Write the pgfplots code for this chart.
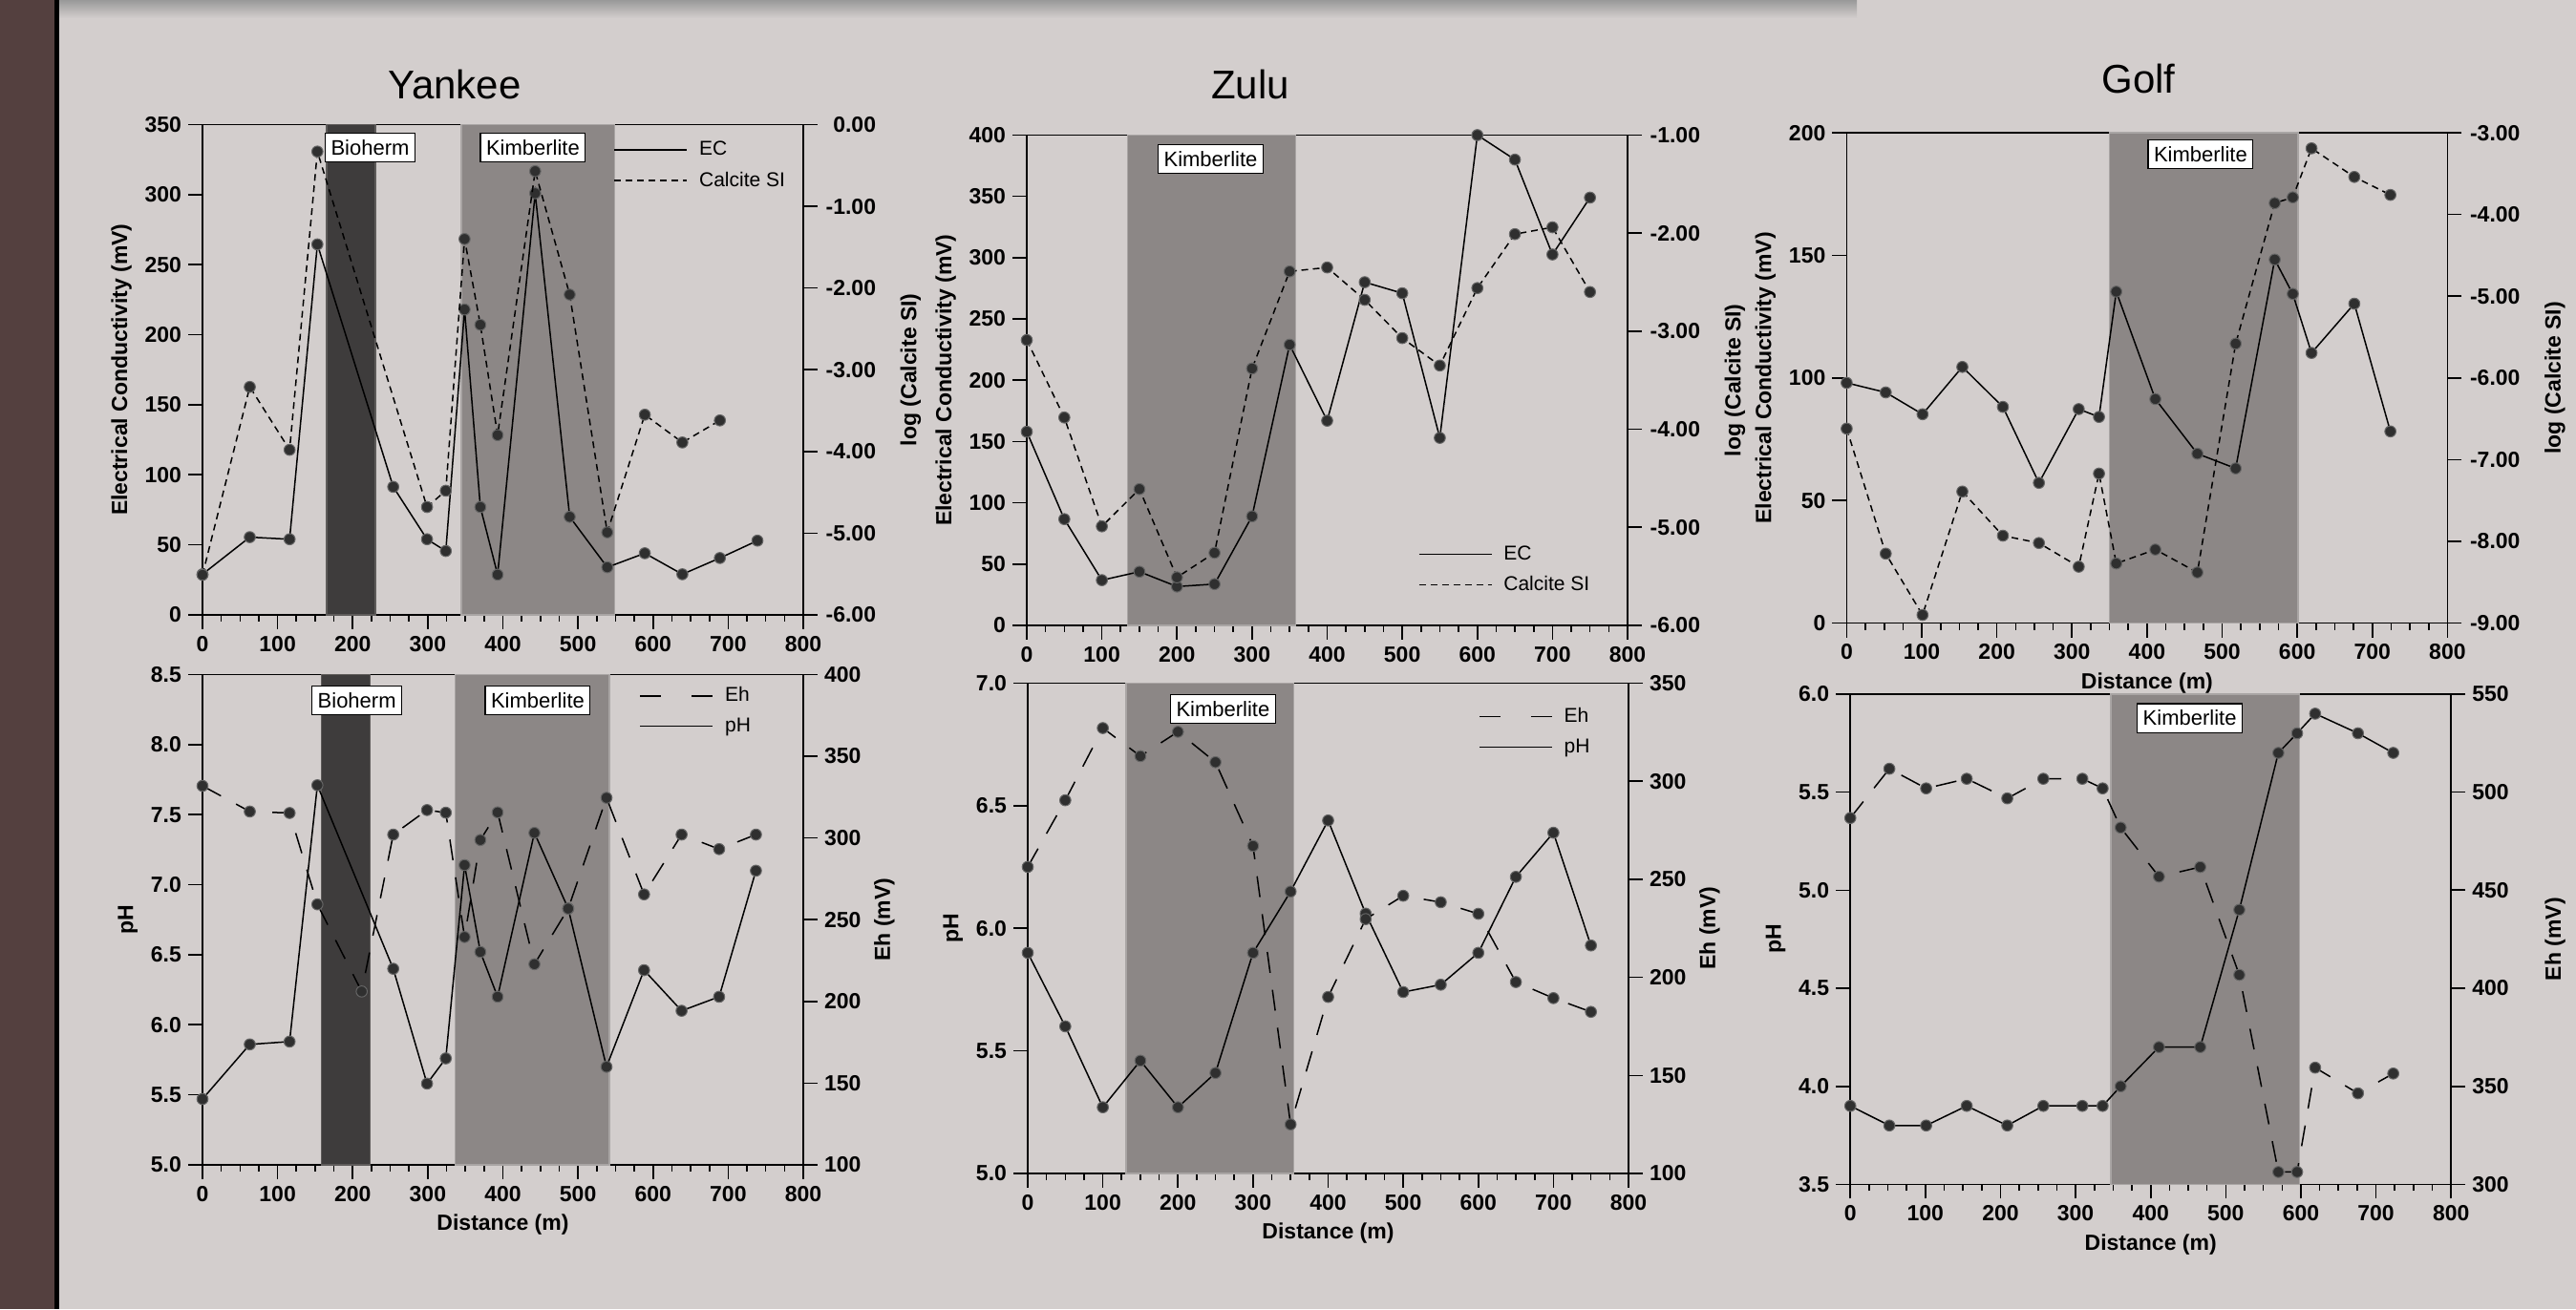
\documentclass[border=0pt]{standalone}
\usepackage{fontspec}
\setmainfont{Liberation Sans}
\usepackage{pgfplots}
\pgfplotsset{compat=1.18}
\definecolor{bg}{HTML}{D3CECD}
\definecolor{strip}{HTML}{54403F}
\definecolor{kimb}{HTML}{8C8786}
\definecolor{kimbedge}{HTML}{A9A5A4}
\definecolor{bioh}{HTML}{3E3C3C}
\definecolor{bioedge}{HTML}{5E5B5A}
\definecolor{markfill}{HTML}{2F2F2F}
\tikzset{lbl/.style={draw=black, fill=white, line width=0.6pt, inner xsep=3pt, inner ysep=3.5pt,
   font=\fontsize{11}{13}\selectfont}}
\pgfplotsset{
 panel/.style={
  scale only axis, width=314.5pt, height=256.75pt, anchor=south west,
  xmin=0, xmax=800, xtick={0,100,...,800}, minor x tick num=3,
  tick align=outside, major tick length=7.5pt, minor tick length=3.5pt,
  axis line style={-, line width=0.9pt},
  every outer x axis line/.append style={-},
  every outer y axis line/.append style={-},
  every tick/.append style={line width=0.8pt, black},
  tick label style={font=\bfseries\fontsize{11.5}{13}\selectfont},
  label style={font=\bfseries\fontsize{11.5}{13}\selectfont},
  /pgf/number format/assume math mode=true,
  clip=false,
 },
 leftax/.style={panel, xtick pos=bottom, ytick pos=left},
 rightax/.style={panel, axis x line=none, axis y line*=right},
 twodec/.style={yticklabel style={text width=27pt, align=right, /pgf/number format/.cd, fixed, fixed zerofill, precision=2}},
 onedec/.style={yticklabel style={/pgf/number format/.cd, fixed, fixed zerofill, precision=1}},
 leg/.style={legend image code/.code={\draw[##1] (0pt,0pt) -- (38pt,0pt);},
   legend style={draw=none, fill=none, inner sep=0pt, anchor=west, column sep=4pt, row sep=3pt,
   font=\fontsize{10.5}{12}\selectfont, cells={anchor=west}}},
 solidser/.style={black, line width=0.75pt, solid, mark=*, mark size=2.9pt,
   mark options={solid, fill=markfill, draw=black!60, line width=0.5pt}},
 siser/.style={solidser, dash pattern=on 3.5pt off 2.5pt},
 ehser/.style={solidser, dash pattern=on 11pt off 9pt},
 kimbreg/.style={fill=kimb, draw=kimbedge, line width=0.8pt, mark=none, forget plot},
 biohreg/.style={fill=bioh, draw=bioedge, line width=0.8pt, mark=none, forget plot},
}
\begin{document}
\begin{tikzpicture}
\fill[bg] (0,0) rectangle (1348.5pt,685.5pt);
\shade[top color=black!40, bottom color=bg] (31pt,676pt) rectangle (972pt,685.5pt);
\fill[strip] (0,0) rectangle (28.5pt,685.5pt);
\fill[black] (28.5pt,0) rectangle (31pt,685.5pt);
\node[font=\fontsize{21}{24}\selectfont] at (238pt,641pt) {Yankee};
\node[font=\fontsize{21}{24}\selectfont] at (654.5pt,641pt) {Zulu};
\node[font=\fontsize{21}{24}\selectfont] at (1119.5pt,644pt) {Golf};

% ===== Yankee top =====
\begin{axis}[leftax, at={(106pt,363.5pt)}, ymin=0, ymax=350, ytick={0,50,...,350},
  ylabel={Electrical Conductivity (mV)}]
\addplot[biohreg] coordinates {(165.5,0) (230,0) (230,350) (165.5,350)} -- cycle;
\addplot[kimbreg] coordinates {(345,0) (549,0) (549,350) (345,350)} -- cycle;
\addplot[solidser] table {
0 29
63 55.5
116 54
153 264.5
254 91.4
299 54
324 45.6
349 218
370 77
393 28.7
443 301
489 70
539 34
589 44
639 29
689 40.6
739 53
};
\end{axis}
\begin{axis}[rightax, twodec, leg, at={(106pt,363.5pt)}, ymin=-6, ymax=0, ytick={-6,-5,...,0},
  ylabel={log (Calcite SI)}, ylabel shift=6pt, legend style={at={(rel axis cs:0.684,0.917)}}]
\addplot[siser, forget plot] table {
0 -5.51
63 -3.21
116 -3.98
153 -0.33
299 -4.68
324 -4.48
349 -1.40
370 -2.45
393 -3.80
443 -0.57
489 -2.08
539 -4.99
589 -3.55
639 -3.89
689 -3.62
};
\addlegendimage{black, line width=0.75pt}\addlegendentry{EC}
\addlegendimage{black, line width=0.75pt, dash pattern=on 3.5pt off 2.5pt}\addlegendentry{Calcite SI}
\node[lbl] at (rel axis cs:0.279,0.953) {Bioherm};
\node[lbl] at (rel axis cs:0.55,0.953) {Kimberlite};
\end{axis}

% ===== Yankee bottom =====
\begin{axis}[leftax, onedec, at={(106pt,75.5pt)}, ymin=5, ymax=8.5, ytick={5,5.5,...,8.5},
  ylabel={pH}, xlabel={Distance (m)}]
\addplot[biohreg] coordinates {(158.6,5) (223.4,5) (223.4,8.5) (158.6,8.5)} -- cycle;
\addplot[kimbreg] coordinates {(336.6,5) (542,5) (542,8.5) (336.6,8.5)} -- cycle;
\addplot[solidser] table {
0 5.47
63 5.86
116 5.88
153 7.71
254 6.40
299 5.58
324 5.76
349 7.14
370 6.52
393 6.20
442 7.37
487 6.83
538 5.70
588 6.39
638 6.10
688 6.20
737 7.10
};
\end{axis}
\begin{axis}[rightax, leg, at={(106pt,75.5pt)}, ymin=100, ymax=400, ytick={100,150,...,400},
  ylabel={Eh (mV)}, legend style={at={(rel axis cs:0.727,0.926)}}]
\addplot[ehser, forget plot] table {
0 331.9
63 316.2
116 315.3
153 259.4
212 206.1
254 302.1
299 317.1
324 315.5
349 239.4
370 298.8
393 315.7
442 222.8
487 256.8
538 324.6
588 265.5
638 302.1
688 293.2
737 302.1
};
\addlegendimage{black, line width=0.75pt, dash pattern=on 11pt off 16pt}\addlegendentry{Eh}
\addlegendimage{black, line width=0.75pt}\addlegendentry{pH}
\node[lbl] at (rel axis cs:0.257,0.948) {Bioherm};
\node[lbl] at (rel axis cs:0.558,0.948) {Kimberlite};
\end{axis}

% ===== Zulu top =====
\begin{axis}[leftax, at={(537.5pt,358pt)}, ymin=0, ymax=400, ytick={0,50,...,400},
  ylabel={Electrical Conductivity (mV)}]
\addplot[kimbreg] coordinates {(134,0) (358,0) (358,400) (134,400)} -- cycle;
\addplot[solidser] table {
0 158
50 86.7
100 36.9
150 43.8
200 31.7
250 33.7
300 89
350 229
400 167
450 280
500 271
550 153
600 400
650 380
700 302.6
750 349
};
\end{axis}
\begin{axis}[rightax, twodec, leg, at={(537.5pt,358pt)}, ymin=-6, ymax=-1, ytick={-6,-5,...,-1},
  ylabel={log (Calcite SI)}, ylabel shift=6pt, legend style={at={(rel axis cs:0.651,0.114)}}]
\addplot[siser, forget plot] table {
0 -3.09
50 -3.88
100 -4.99
150 -4.61
200 -5.51
250 -5.26
300 -3.38
350 -2.39
400 -2.35
450 -2.68
500 -3.07
550 -3.35
600 -2.56
650 -2.01
700 -1.94
750 -2.60
};
\addlegendimage{black, line width=0.75pt}\addlegendentry{EC}
\addlegendimage{black, line width=0.75pt, dash pattern=on 3.5pt off 2.5pt}\addlegendentry{Calcite SI}
\node[lbl] at (rel axis cs:0.306,0.951) {Kimberlite};
\end{axis}

% ===== Zulu bottom =====
\begin{axis}[leftax, onedec, at={(538pt,71pt)}, ymin=5, ymax=7, ytick={5,5.5,...,7},
  ylabel={pH}, xlabel={Distance (m)}]
\addplot[kimbreg] coordinates {(131,5) (354,5) (354,7) (131,7)} -- cycle;
\addplot[solidser] table {
0 5.90
50 5.60
100 5.27
150 5.46
200 5.27
250 5.41
300 5.90
350 6.15
400 6.44
450 6.06
500 5.74
550 5.77
600 5.90
650 6.21
700 6.39
750 5.93
};
\end{axis}
\begin{axis}[rightax, leg, at={(538pt,71pt)}, ymin=100, ymax=350, ytick={100,150,...,350},
  ylabel={Eh (mV)}, legend style={at={(rel axis cs:0.75,0.901)}}]
\addplot[ehser, forget plot] table {
0 256.3
50 290.3
100 327.1
150 312.8
200 325.2
250 309.7
300 267
350 125
400 190
450 229.7
500 241.6
550 238.3
600 232.4
650 197.6
700 189.4
750 182.4
};
\addlegendimage{black, line width=0.75pt, dash pattern=on 11pt off 16pt}\addlegendentry{Eh}
\addlegendimage{black, line width=0.75pt}\addlegendentry{pH}
\node[lbl] at (rel axis cs:0.325,0.948) {Kimberlite};
\end{axis}

% ===== Golf top =====
\begin{axis}[leftax, at={(966.7pt,359.2pt)}, ymin=0, ymax=200, ytick={0,50,...,200},
  ylabel={Electrical Conductivity (mV)}, xlabel={Distance (m)}]
\addplot[kimbreg] coordinates {(350,0) (601,0) (601,200) (350,200)} -- cycle;
\addplot[solidser] table {
0 98
52 94.1
101 85.2
154 104.5
208 88.2
256 57.2
309 87.3
336 84.1
359 135.2
411 91.4
467 69.1
518 63.1
570 148.3
594 134.3
619 110.2
676 130.3
724 78.2
};
\end{axis}
\begin{axis}[rightax, twodec, at={(966.7pt,359.2pt)}, ymin=-9, ymax=-3, ytick={-9,-8,...,-3},
  ylabel={log (Calcite SI)}, ylabel shift=6pt]
\addplot[siser] table {
0 -6.62
52 -8.15
101 -8.90
154 -7.39
208 -7.93
256 -8.02
309 -8.31
336 -7.17
359 -8.27
411 -8.10
467 -8.38
518 -5.58
570 -3.86
594 -3.79
619 -3.19
676 -3.54
724 -3.76
};
\node[lbl] at (rel axis cs:0.589,0.956) {Kimberlite};
\end{axis}

% ===== Golf bottom =====
\begin{axis}[leftax, onedec, at={(968.6pt,65.3pt)}, ymin=3.5, ymax=6, ytick={3.5,4,...,6},
  ylabel={pH}, xlabel={Distance (m)}]
\addplot[kimbreg] coordinates {(347,3.5) (598,3.5) (598,6) (347,6)} -- cycle;
\addplot[solidser] table {
0 3.9
52 3.8
101 3.8
155 3.9
209 3.8
257 3.9
309 3.9
336 3.9
360 4.0
411 4.2
466 4.2
518 4.9
570 5.7
595 5.8
619 5.9
676 5.8
723 5.7
};
\end{axis}
\begin{axis}[rightax, at={(968.6pt,65.3pt)}, ymin=300, ymax=550, ytick={300,350,...,550},
  ylabel={Eh (mV)}, ylabel shift=12pt]
\addplot[ehser] table {
0 486.8
52 511.9
101 501.9
155 506.8
209 496.8
257 506.8
309 506.8
336 501.9
360 481.9
411 456.9
466 461.8
518 406.8
570 306.3
595 306.3
619 359.5
676 346.4
723 356.5
};
\node[lbl] at (rel axis cs:0.565,0.951) {Kimberlite};
\end{axis}
\pgfresetboundingbox
\path (0,0) rectangle (1348.5pt,685.5pt);
\end{tikzpicture}
\end{document}
